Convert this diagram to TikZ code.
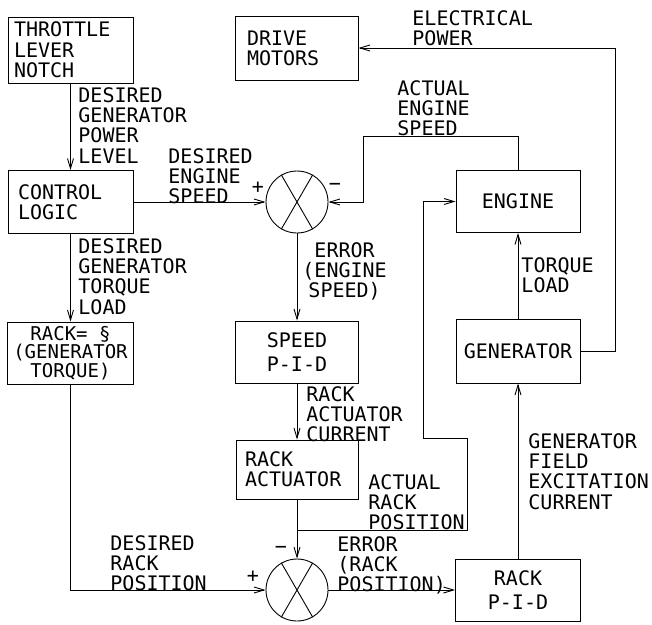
\documentclass[tikz,border=0pt]{standalone}
\usepackage{fontspec}
\newfontfamily\plotterfont{DejaVu Sans Mono}
\usetikzlibrary{arrows.meta,calc}

\begin{document}
\begin{tikzpicture}[
  x=1pt, y=-1pt,
  line width=0.9pt,
  every node/.style={font=\plotterfont\fontsize{20}{20.3}\selectfont, inner sep=0pt},
  block/.style={draw, rectangle, minimum width=124pt, minimum height=62pt, align=center},
  summer/.style={draw, circle, minimum size=62pt},
  lbl/.style={anchor=north west, align=left},
  arr/.style={-{Straight Barb[length=10pt,width=6pt]}}
]
\useasboundingbox (0,0) rectangle (652,624);
\node[block, minimum width=125pt, minimum height=66pt, text width=113pt, inner xsep=6pt, align=left] (throttle) at (70.5,50) {THROTTLE\\LEVER\\NOTCH};
\node[block, minimum width=123pt, minimum height=64pt, text width=99pt, inner xsep=12pt, align=left] (drive) at (296.5,48) {DRIVE\\MOTORS};
\node[block, minimum width=125pt, minimum height=63pt, text width=105pt, inner xsep=10pt, align=left] (control) at (70.5,202) {CONTROL\\LOGIC};
\node[block, minimum width=126pt, font=\plotterfont\fontsize{19}{18.5}\selectfont] (rackfn) at (70.5,353) {RACK= §\\(GENERATOR\\TORQUE)};
\node[block, minimum width=123pt] (speedpid) at (297,352) {SPEED\\[3pt]P-I-D};
\node[block, minimum width=122pt, minimum height=59pt, text width=104pt, inner xsep=9pt, align=left] (actuator) at (297,469.5) {RACK\\ACTUATOR};
\node[block] (engine) at (518,201.5) {ENGINE};
\node[block, minimum height=64pt] (generator) at (518,351) {GENERATOR};
\node[block, minimum width=125pt] (rackpid) at (518,590) {RACK\\[3pt]P-I-D};
\node[summer] (sum1) at (297,202) {};
\node[summer] (sum2) at (297,590) {};
\foreach \s in {sum1,sum2}
  \draw (\s.120) -- (\s.300) (\s.60) -- (\s.240);

\node (s1p) at (258,188) {+};
\node (s1m) at (335,187) {−};
\node (s2m) at (281,550) {−};
\node (s2p) at (253,577) {+};

\coordinate (ep) at (615,48);
\coordinate (es) at (363,136);
\coordinate (rj) at (297,530);
\coordinate (rk1) at (467,438);
\coordinate (rk2) at (423,438);

\draw[arr] (throttle) -- (control);
\draw[arr] (control) -- (sum1);
\draw[arr] (control) -- (rackfn);
\draw[arr] (rackfn.south) |- (sum2.west);
\draw[arr] (sum1) -- (speedpid);
\draw[arr] (speedpid) -- (actuator);
\draw[arr] (actuator) -- (sum2);
\draw[arr] (sum2) -- (rackpid);
\draw[arr] (rackpid) -- (generator);
\draw[arr] (generator) -- (engine);
\draw[arr] (engine.north) |- (es) |- (sum1.east);
\draw[arr] (rj) -| (rk1) -- (rk2) |- (engine.west);
\draw[arr] (generator.east) -| (ep) -- (drive.east);

\node[lbl] (lelec) at (412,10) {ELECTRICAL\\POWER};
\node[lbl] (lpower) at (78,87) {DESIRED\\GENERATOR\\POWER\\LEVEL};
\node[lbl] (lspeed) at (168,148) {DESIRED\\ENGINE\\SPEED};
\node[lbl] (lactual) at (397,80) {ACTUAL\\ENGINE\\SPEED};
\node[lbl, align=center] (lerr1) at (302,242) {ERROR\\(ENGINE\\SPEED)};
\node[lbl] (ltorque) at (78,238) {DESIRED\\GENERATOR\\TORQUE\\LOAD};
\node[lbl] (lcurrent) at (306,386) {RACK\\ACTUATOR\\CURRENT};
\node[lbl] (lload) at (521,257) {TORQUE\\LOAD};
\node[lbl] (lrack) at (368,474) {ACTUAL\\RACK\\POSITION};
\node[lbl] (lerr2) at (337,536) {ERROR\\(RACK\\POSITION)};
\node[lbl] (ldrack) at (110,535) {DESIRED\\RACK\\POSITION};
\node[lbl] (lfield) at (528,433) {GENERATOR\\FIELD\\EXCITATION\\CURRENT};
\end{tikzpicture}
\end{document}
